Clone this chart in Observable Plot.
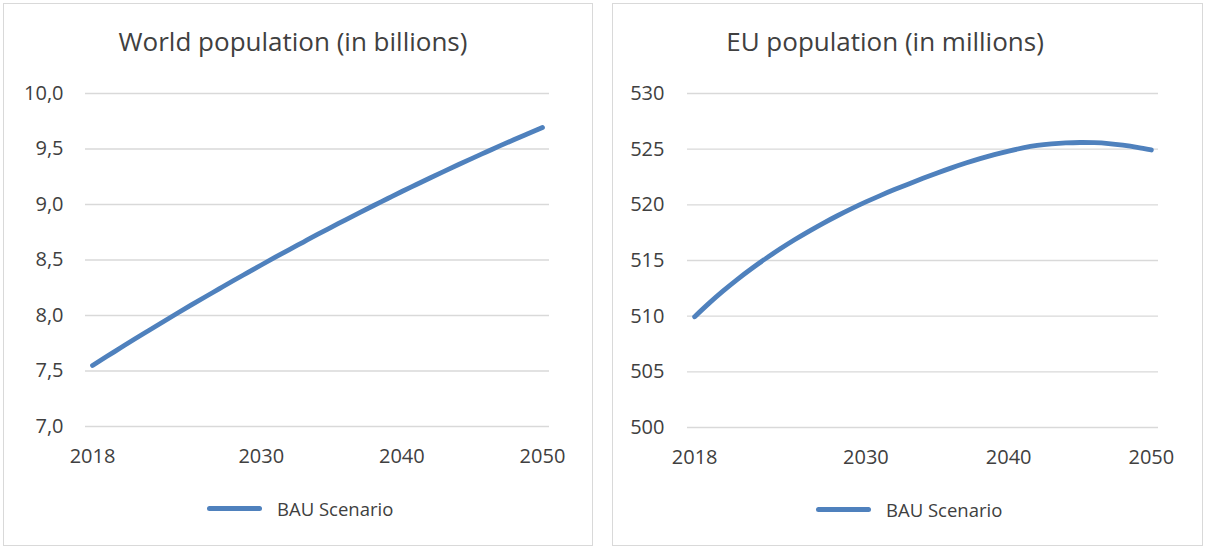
<!DOCTYPE html>
<html>
<head>
<meta charset="utf-8">
<script src="https://cdn.jsdelivr.net/npm/d3@7"></script>
<script src="https://cdn.jsdelivr.net/npm/@observablehq/plot@0.6"></script>
<style>
  html, body { margin: 0; padding: 0; background: #fff; }
  #root { position: relative; width: 1205px; height: 548px; overflow: hidden; font-family: "Open Sans", sans-serif; color: #404040; }
  .panel { position: absolute; border: 1px solid #d9d9d9; box-sizing: border-box; }
  .title { position: absolute; font-size: 26px; white-space: nowrap; transform: translateX(-50%); line-height: 1; }
  .plotbox { position: absolute; }
  .legend { position: absolute; font-size: 18.5px; white-space: nowrap; display: flex; align-items: center; }
  .legend .sw { display: inline-block; width: 55px; height: 5px; border-radius: 3px; background: #4f81bd; margin-right: 15px; }
</style>
</head>
<body>
<div id="root"></div>
<script>
const years = [2018,2019,2020,2021,2022,2023,2024,2025,2026,2027,2028,2029,2030,2031,2032,2033,2034,2035,2036,2037,2038,2039,2040,2041,2042,2043,2044,2045,2046,2047,2048,2049,2050];
const worldPop = [7.550,7.630,7.709,7.788,7.865,7.942,8.018,8.093,8.167,8.240,8.313,8.384,8.455,8.525,8.594,8.662,8.730,8.796,8.862,8.927,8.991,9.054,9.117,9.178,9.239,9.299,9.358,9.416,9.473,9.530,9.586,9.640,9.694];
const euPop = [509.95,511.15,512.27,513.31,514.28,515.19,516.05,516.86,517.62,518.34,519.02,519.66,520.26,520.83,521.37,521.88,522.38,522.86,523.32,523.75,524.15,524.51,524.83,525.11,525.33,525.47,525.56,525.60,525.58,525.50,525.36,525.17,524.93];
const xTicks = [2018, 2030, 2040, 2050];
const worldTicks = [7.0, 7.5, 8.0, 8.5, 9.0, 9.5, 10.0];
const euTicks = [500, 505, 510, 515, 520, 525, 530];
const seriesName = "BAU Scenario";
const worldTitle = "World population (in billions)";
const euTitle = "EU population (in millions)";

const lineColor = "#4f81bd";
const root = document.getElementById("root");

function el(cls, styles, text) {
  const d = document.createElement("div");
  d.className = cls;
  Object.assign(d.style, styles);
  if (text != null) d.textContent = text;
  root.appendChild(d);
  return d;
}

function makeChart(values, ticks, domain, fmt, opts) {
  const data = years.map((y, i) => ({year: y, value: values[i]}));
  return Plot.plot({
    width: opts.width,
    height: 420,
    marginLeft: opts.marginLeft,
    marginRight: opts.marginRight,
    marginTop: 33,
    marginBottom: opts.marginBottom,
    style: {fontFamily: "'Open Sans', sans-serif", fontSize: "20px", color: "#404040", background: "transparent", overflow: "visible"},
    x: {domain: [years[0] - 0.5, years[years.length - 1] + 0.5], ticks: xTicks, tickFormat: d => String(d), tickSize: 0, tickPadding: 22, label: null},
    y: {domain, ticks, tickFormat: fmt, tickSize: 0, tickPadding: opts.yPad, label: null},
    marks: [
      Plot.gridY(ticks, {stroke: "#d9d9d9", strokeOpacity: 1, strokeWidth: 1.3}),
      Plot.line(data, {x: "year", y: "value", stroke: lineColor, strokeWidth: 4.8, curve: "natural", strokeLinecap: "round", strokeLinejoin: "round"})
    ]
  });
}

// Left panel
el("panel", {left: "3px", top: "3px", width: "590px", height: "543px"});
el("title", {left: "293px", top: "28px"}, worldTitle);
const left = el("plotbox", {left: "3px", top: "60px"});
left.appendChild(makeChart(worldPop, worldTicks, [7, 10], d => d.toFixed(1).replace(".", ","),
  {width: 590, marginLeft: 82, marginRight: 44, marginBottom: 54, yPad: 22}));
const lg1 = el("legend", {left: "207px", top: "496px"});
lg1.innerHTML = '<span class="sw"></span>';
lg1.appendChild(document.createTextNode(seriesName));

// Right panel
el("panel", {left: "612px", top: "3px", width: "591px", height: "543px"});
el("title", {left: "885px", top: "28px"}, euTitle);
const right = el("plotbox", {left: "612px", top: "60px"});
right.appendChild(makeChart(euPop, euTicks, [500, 530], d => String(d),
  {width: 591, marginLeft: 75, marginRight: 45, marginBottom: 53, yPad: 23}));
const lg2 = el("legend", {left: "816px", top: "497px"});
lg2.innerHTML = '<span class="sw"></span>';
lg2.appendChild(document.createTextNode(seriesName));
</script>
</body>
</html>
